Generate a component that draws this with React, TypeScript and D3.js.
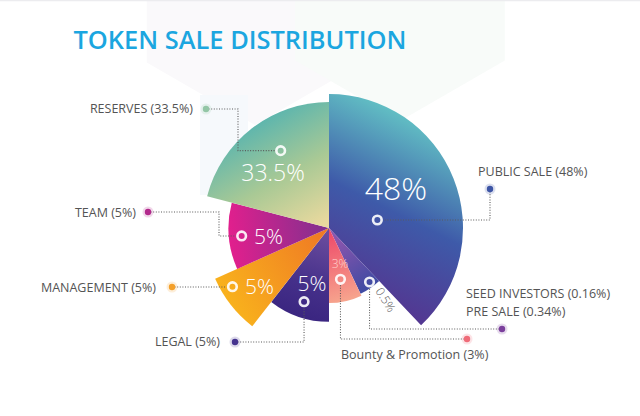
import React from 'react';
import * as d3 from 'd3';

// ---- data ----
const title = 'TOKEN SALE DISTRIBUTION';
const sliceKeys = ['public', 'early', 'bounty', 'legal', 'management', 'team', 'reserves'];
const sliceShareLabels = ['48%', '0.5%', '3%', '5%', '5%', '5%', '33.5%'];
// angular share of each wedge as drawn (degrees of the full turn)
const sliceSpan = [136.6, 17.8, 25.6, 38, 28, 38.6, 75.4];
// relative reach (outer radius) of each wedge
const sliceReach = [1.0, 0.545, 0.56, 0.7, 0.93, 0.75, 0.94];
const legendLines = [
  ['PUBLIC SALE (48%)'],
  ['SEED INVESTORS (0.16%)', 'PRE SALE (0.34%)'],
  ['Bounty & Promotion (3%)'],
  ['LEGAL (5%)'],
  ['MANAGEMENT (5%)'],
  ['TEAM (5%)'],
  ['RESERVES (33.5%)'],
];

// ---- styles ----
const dotColors = ['#3d55a5', '#7b3f9c', '#ef6b78', '#45338f', '#f4a02a', '#b2288c', '#93c6a6'];
const gradients: { x1: number; y1: number; x2: number; y2: number; stops: [number, string][] }[] = [
  { x1: 120, y1: -95, x2: 25, y2: 95, stops: [[0, '#63c3c5'], [0.45, '#3e5aa9'], [1, '#5a2b89']] },
  { x1: 10, y1: 10, x2: 45, y2: 60, stops: [[0, '#8a55ad'], [1, '#3b4aa2']] },
  { x1: 0, y1: 5, x2: 20, y2: 75, stops: [[0, '#ee4a69'], [1, '#f7a88f']] },
  { x1: -5, y1: 5, x2: -30, y2: 90, stops: [[0, '#6a4c9e'], [0.6, '#45308a'], [1, '#3a2580']] },
  { x1: -110, y1: 70, x2: -5, y2: 5, stops: [[0, '#f9b41c'], [1, '#ef7a24']] },
  { x1: -100, y1: 10, x2: -5, y2: 0, stops: [[0, '#e21f8d'], [1, '#84308f']] },
  { x1: -70, y1: -120, x2: -5, y2: -5, stops: [[0, '#4fb2b2'], [0.55, '#a9c995'], [1, '#e9d99e']] },
];
// annotation layout
const ringPolar = [[80.6, 49], [143.1, 67.5], [167.4, 52.6], [198.7, 77.8], [238.7, 113], [264.8, 87.7], [328, 91.2]];
const dotPos = [[490, 189], [502, 329], [467, 339], [235, 342], [172, 287], [148, 212], [206, 109]];
const routes = ['vh', 'hv', 'hv', 'hv', 'h', 'hvh', 'hvh'];
const routeMidX = [0, 0, 0, 0, 0, 219, 238];
const legendAnchor: { x: number; y: number; anchor: string }[] = [
  { x: 478, y: 176, anchor: 'start' },
  { x: 466, y: 298, anchor: 'start' },
  { x: 341, y: 359, anchor: 'start' },
  { x: 220, y: 346, anchor: 'end' },
  { x: 156, y: 292, anchor: 'end' },
  { x: 136, y: 217, anchor: 'end' },
  { x: 193, y: 113, anchor: 'end' },
];
const innerLabel: { dx: number; dy: number; size: number; anchor: string; fill: string; rot?: number }[] = [
  { dx: 67, dy: -28, size: 32, anchor: 'middle', fill: '#ffffff' },
  { dx: 46, dy: 63, size: 12, anchor: 'start', fill: '#555555', rot: 58 },
  { dx: 11, dy: 40, size: 12, anchor: 'middle', fill: '#ffd6d0' },
  { dx: -17, dy: 62.7, size: 21, anchor: 'middle', fill: '#ffffff' },
  { dx: -84, dy: 66, size: 21, anchor: 'start', fill: '#ffffff' },
  { dx: -75, dy: 16, size: 21, anchor: 'start', fill: '#ffffff' },
  { dx: -56, dy: -47.3, size: 23, anchor: 'middle', fill: '#ffffff' },
];

const W = 640;
const H = 416;
const cx = 329;
const cy = 228;
const FONT = "'Open Sans', 'Lato', sans-serif";

export default function App() {
  const reach = d3.scaleLinear().domain([0, 1]).range([0, 134]);
  const pie = d3.pie<number>().sort(null).value((d) => d);
  const arcs = pie(sliceSpan);
  const arcGen = d3
    .arc<d3.PieArcDatum<number>>()
    .innerRadius(0)
    .outerRadius((d) => reach(sliceReach[d.index]));

  const rings = ringPolar.map(([deg, r]) => {
    const [x, y] = d3.pointRadial((deg * Math.PI) / 180, r);
    return [cx + x, cy + y];
  });

  const leaderPath = (i: number) => {
    const [dx0, dy0] = dotPos[i];
    const [rx, ry] = rings[i];
    const p = d3.path();
    p.moveTo(dx0, dy0);
    const gap = 6;
    const r = routes[i];
    if (r === 'vh') {
      p.lineTo(dx0, ry);
      p.lineTo(rx + (dx0 > rx ? gap : -gap), ry);
    } else if (r === 'hv') {
      p.lineTo(rx, dy0);
      p.lineTo(rx, ry + (dy0 > ry ? gap : -gap));
    } else if (r === 'h') {
      p.lineTo(rx + (dx0 > rx ? gap : -gap), dy0);
    } else {
      const mx = routeMidX[i];
      p.lineTo(mx, dy0);
      p.lineTo(mx, ry);
      p.lineTo(rx + (mx > rx ? gap : -gap), ry);
    }
    return p.toString();
  };

  const hex = (hx: number, hy: number, r: number) => {
    const pts: [number, number][] = d3.range(6).map((k) => {
      const a = (Math.PI / 3) * k;
      const [x, y] = d3.pointRadial(a, r);
      return [hx + x, hy + y];
    });
    return 'M' + pts.map((p) => p.join(',')).join('L') + 'Z';
  };

  return (
    <svg
      width={W}
      height={H}
      viewBox={`0 0 ${W} ${H}`}
      style={{ position: 'absolute', left: 0, top: 0, background: '#ffffff' }}
    >
      <defs>
        {gradients.map((g, i) => (
          <linearGradient
            key={i}
            id={`grad-${sliceKeys[i]}`}
            gradientUnits="userSpaceOnUse"
            x1={g.x1}
            y1={g.y1}
            x2={g.x2}
            y2={g.y2}
          >
            {g.stops.map(([o, c], k) => (
              <stop key={k} offset={o} stopColor={c} />
            ))}
          </linearGradient>
        ))}
      </defs>

      {/* faint background */}
      <rect x={0} y={0} width={W} height={H} fill="#ffffff" />
      <path d={hex(255, 0, 125)} fill="#faf9fb" />
      <path d={hex(400, 0, 121)} fill="#f8fbf9" />
      <rect x={200} y={95} width={48} height={100} fill="#f6f9fc" />
      <line x1={0} y1={0.5} x2={W} y2={0.5} stroke="#ececef" strokeWidth={1.5} />

      {/* title */}
      <text
        x={73.5}
        y={49.3}
        fill="#1ba6e0"
        fontFamily={FONT}
        fontWeight={600}
        fontSize={24.5}
        textLength={333}
        lengthAdjust="spacingAndGlyphs"
      >
        {title}
      </text>

      {/* wedges */}
      <g transform={`translate(${cx},${cy})`}>
        {arcs.map((a, i) => (
          <path key={sliceKeys[i]} d={arcGen(a) || ''} fill={`url(#grad-${sliceKeys[i]})`} />
        ))}
        {innerLabel.map((l, i) => (
          <text
            key={i}
            x={l.dx}
            y={l.dy}
            transform={l.rot ? `rotate(${l.rot},${l.dx},${l.dy})` : undefined}
            textAnchor={l.anchor}
            fill={l.fill}
            fontFamily={FONT}
            fontWeight={300}
            fontSize={l.size}
          >
            {sliceShareLabels[i]}
          </text>
        ))}
      </g>

      {/* leaders */}
      {sliceKeys.map((k, i) => (
        <path
          key={`l-${k}`}
          d={leaderPath(i)}
          fill="none"
          stroke="#5a5a5a"
          strokeWidth={1.1}
          strokeDasharray="1 1.6"
        />
      ))}

      {/* rings */}
      {rings.map(([x, y], i) => (
        <circle key={`r-${i}`} cx={x} cy={y} r={4.3} fill="none" stroke="#ffffff" strokeOpacity={0.9} strokeWidth={2.6} />
      ))}

      {/* outer dots */}
      {dotPos.map(([x, y], i) => (
        <g key={`d-${i}`}>
          <circle cx={x} cy={y} r={5.5} fill={dotColors[i]} opacity={0.18} />
          <circle cx={x} cy={y} r={3.2} fill={dotColors[i]} />
        </g>
      ))}

      {/* legend labels */}
      {legendLines.map((lines, i) => (
        <text
          key={`t-${i}`}
          x={legendAnchor[i].x}
          y={legendAnchor[i].y}
          textAnchor={legendAnchor[i].anchor}
          fill="#545454"
          fontFamily={FONT}
          fontSize={12.5}
        >
          {lines.map((s, k) => (
            <tspan key={k} x={legendAnchor[i].x} dy={k === 0 ? 0 : 18}>
              {s}
            </tspan>
          ))}
        </text>
      ))}
    </svg>
  );
}
